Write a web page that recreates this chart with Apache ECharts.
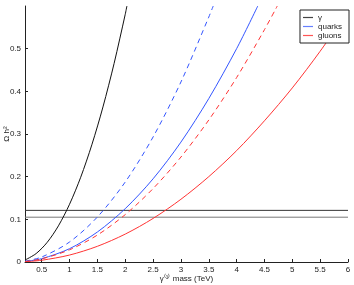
<!DOCTYPE html>
<html>
<head>
<meta charset="utf-8">
<script src="https://cdn.jsdelivr.net/npm/echarts@6/dist/echarts.min.js"></script>
<style>html,body{margin:0;padding:0;background:#fff}#c{width:354px;height:285px}</style>
</head>
<body>
<div id="c"></div>
<script>
// Data
const gammaX = [0.2, 0.4, 0.6, 0.8, 1.0, 1.2, 1.4, 1.6, 1.8, 2.0, 2.03];
const gammaY = [0.0046, 0.0198, 0.0463, 0.0847, 0.1354, 0.1986, 0.2746, 0.3634, 0.4654, 0.5806, 0.6];
const quarksDashX = [0.2, 0.5, 1, 1.5, 2, 2.5, 3, 3.5, 3.58];
const quarksDashY = [0.0019, 0.0117, 0.0469, 0.1055, 0.1875, 0.293, 0.4219, 0.574, 0.6];
const quarksX = [0.2, 0.5, 1, 1.5, 2, 2.5, 3, 3.5, 4, 4.38];
const quarksY = [0.0013, 0.0078, 0.0312, 0.0703, 0.125, 0.195, 0.281, 0.383, 0.5, 0.6];
const gluonsDashX = [0.2, 0.5, 1, 1.5, 2, 2.5, 3, 3.5, 4, 4.5, 4.73];
const gluonsDashY = [0.0012, 0.0073, 0.0286, 0.0632, 0.1111, 0.1721, 0.246, 0.3328, 0.4323, 0.5445, 0.6];
const gluonsX = [0.2, 0.5, 1, 1.5, 2, 2.5, 3, 3.5, 4, 4.5, 5, 5.5, 6];
const gluonsY = [0.0007, 0.0041, 0.0163, 0.0368, 0.0654, 0.1021, 0.147, 0.2, 0.261, 0.331, 0.408, 0.494, 0.588];
const bandLevels = [0.121, 0.105];
const xTicks = [0.5, 1, 1.5, 2, 2.5, 3, 3.5, 4, 4.5, 5, 5.5, 6];
const yTicks = [0, 0.1, 0.2, 0.3, 0.4, 0.5];
const legendNames = ['γ', 'quarks', 'gluons'];
const legendColors = ['#444444', '#6680ff', '#ff5555'];

const xMin = 0.2, xMax = 6;
const pairs = (xs, ys) => xs.map((x, i) => [x, ys[i]]);

const lineSeries = (name, xs, ys, color, dashed) => ({
  name, type: 'line', data: pairs(xs, ys), showSymbol: false, smooth: 0.3,
  color,
  lineStyle: { color, width: 1, type: dashed ? [5, 4] : 'solid' },
  itemStyle: { color }, animation: false, z: 3
});

const chart = echarts.init(document.getElementById('c'));
chart.setOption({
  animation: false,
  textStyle: { fontFamily: 'Liberation Sans, Arial, sans-serif' },
  grid: { left: 25, right: 6, top: 6, bottom: 23, containLabel: false, outerBoundsMode: 'none' },
  xAxis: {
    type: 'value', min: xMin, max: xMax,
    name: 'γ⁽¹⁾ mass (TeV)', nameLocation: 'middle', nameGap: 13, nameMoveOverlap: false,
    nameTextStyle: { fontSize: 8, color: '#222' },
    axisLine: { show: true, lineStyle: { color: '#222', width: 1 } },
    axisTick: { show: true, inside: true, length: 3, customValues: xTicks, lineStyle: { color: '#222' } },
    axisLabel: { customValues: xTicks, fontSize: 8, color: '#222', margin: 4,
      formatter: v => String(v) },
    splitLine: { show: false }
  },
  yAxis: {
    type: 'value', min: 0, max: 0.6,
    name: 'Ω h²', nameLocation: 'middle', nameGap: 14, nameRotate: 90, nameMoveOverlap: false,
    nameTextStyle: { fontSize: 8, color: '#222' },
    axisLine: { show: true, lineStyle: { color: '#222', width: 1 } },
    axisTick: { show: true, inside: true, length: 3, customValues: yTicks, lineStyle: { color: '#222' } },
    axisLabel: { customValues: yTicks, fontSize: 8, color: '#222', margin: 4,
      formatter: v => String(v) },
    splitLine: { show: false }
  },
  legend: {
    data: legendNames.map((n, i) => ({
      name: n,
      icon: 'rect',
      itemStyle: { color: legendColors[i], borderWidth: 0 }
    })),
    orient: 'vertical', right: 5, top: 10,
    itemWidth: 10, itemHeight: 1.2, itemGap: 0,
    padding: [3, 7, 3, 3],
    borderColor: '#222', borderWidth: 1, backgroundColor: '#fff',
    textStyle: { fontSize: 8, color: '#222', lineHeight: 9 }
  },
  series: [
    lineSeries('γ', gammaX, gammaY, '#111111', false),
    lineSeries('quarks', quarksX, quarksY, '#3355ff', false),
    lineSeries('quarks dashed', quarksDashX, quarksDashY, '#3355ff', true),
    lineSeries('gluons', gluonsX, gluonsY, '#ff3333', false),
    lineSeries('gluons dashed', gluonsDashX, gluonsDashY, '#ff3333', true),
    { name: 'band high', type: 'line', data: [[xMin, bandLevels[0]], [xMax, bandLevels[0]]],
      showSymbol: false, color: '#333', lineStyle: { color: '#333', width: 1 }, z: 2 },
    { name: 'band low', type: 'line', data: [[xMin, bandLevels[1]], [xMax, bandLevels[1]]],
      showSymbol: false, color: '#777', lineStyle: { color: '#777', width: 1 }, z: 2 }
  ]
});
</script>
</body>
</html>
